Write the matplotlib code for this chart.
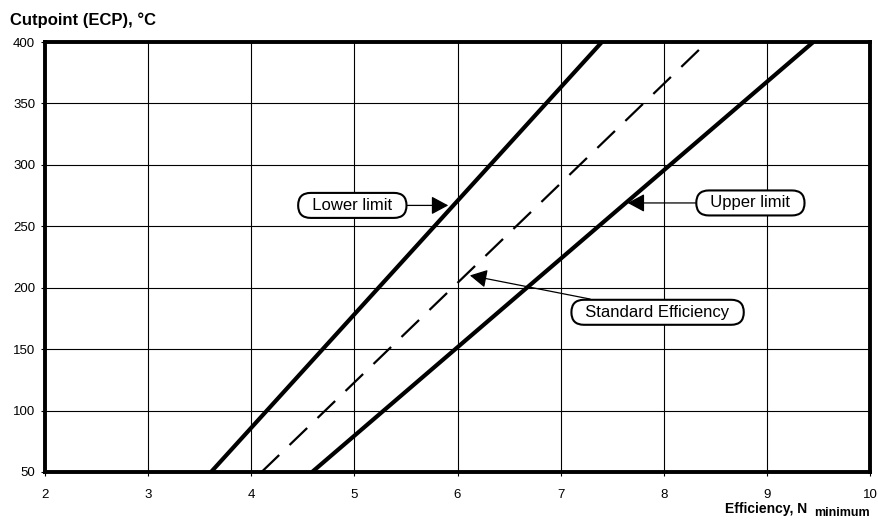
import matplotlib
matplotlib.use("Agg")
import matplotlib.pyplot as plt

plt.rcParams['font.family'] = ['Liberation Sans', 'DejaVu Sans']

# cutpoint range (y) and efficiency at each end (x)
ecp = [50, 400]
lower_limit = [3.61, 7.40]
standard = [4.10, 8.42]
upper_limit = [4.59, 9.45]

x_ticks = [2, 3, 4, 5, 6, 7, 8, 9, 10]
y_ticks = [50, 100, 150, 200, 250, 300, 350, 400]

fig = plt.figure(figsize=(8.79, 5.22), dpi=100)
ax = fig.add_axes([0.0512, 0.0958, 0.9386, 0.8237])

ax.plot(lower_limit, ecp, color='black', lw=3, solid_capstyle='butt')
ax.plot(upper_limit, ecp, color='black', lw=3, solid_capstyle='butt')
ax.plot(standard, ecp, color='black', lw=1.6, dashes=(11, 6.5))

ax.set_xlim(2, 10)
ax.set_ylim(50, 400)
ax.set_xticks(x_ticks)
ax.set_yticks(y_ticks)
ax.grid(True, color='black', lw=0.8)
ax.set_axisbelow(True)
for s in ax.spines.values():
    s.set_linewidth(2.8)
ax.tick_params(direction='out', length=3, width=0.8, labelsize=9.5, pad=4)
ax.tick_params(axis='x', pad=9)

box = dict(boxstyle='round,pad=0.3,rounding_size=0.75', fc='white', ec='black', lw=1.5)
arr = dict(arrowstyle='-|>,head_length=0.65,head_width=0.35', color='black', lw=0.9,
           mutation_scale=16, shrinkA=0, shrinkB=0)

ax.annotate("  Lower limit  ", xy=(5.91, 267), xytext=(4.98, 267), ha='center', va='center',
            fontsize=12, bbox=box, arrowprops=arr)
ax.annotate("  Upper limit  ", xy=(7.65, 269), xytext=(8.84, 269), ha='center', va='center',
            fontsize=12, bbox=box, arrowprops=arr)
ax.annotate("  Standard Efficiency  ", xy=(6.12, 210), xytext=(7.94, 180), ha='center', va='center',
            fontsize=12, bbox=box, arrowprops=arr)

fig.text(10 / 879, 1 - 25 / 522, "Cutpoint (ECP), °C", fontsize=12, fontweight='bold',
         ha='left', va='baseline')
fig.text(725 / 879, 1 - 513 / 522, "Efficiency, N", fontsize=10, fontweight='bold',
         ha='left', va='baseline')
fig.text(814 / 879, 1 - 516 / 522, "minimum", fontsize=9, fontweight='bold',
         ha='left', va='baseline')

fig.savefig("out.png", dpi=100)
